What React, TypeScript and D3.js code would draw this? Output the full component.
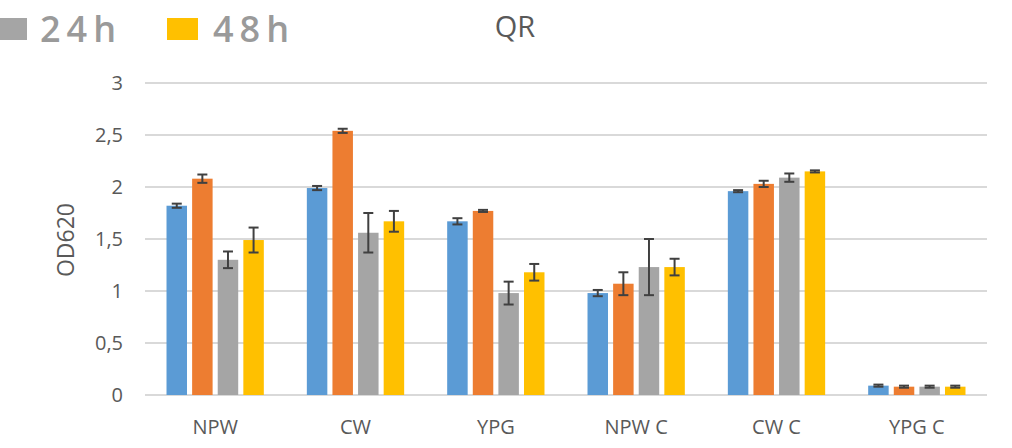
import React from "react";
import * as d3 from "d3";

const categories = ["NPW", "CW", "YPG", "NPW C", "CW C", "YPG C"];
const seriesNames = ["s1", "s2", "24h", "48h"];
const seriesColors = ["#5B9BD5", "#ED7D31", "#A5A5A5", "#FFC000"];
const s1Values = [1.82, 1.99, 1.67, 0.98, 1.96, 0.09];
const s1Errors = [0.02, 0.02, 0.03, 0.03, 0.01, 0.01];
const s2Values = [2.08, 2.54, 1.77, 1.07, 2.03, 0.08];
const s2Errors = [0.04, 0.02, 0.01, 0.11, 0.03, 0.01];
const h24Values = [1.3, 1.56, 0.98, 1.23, 2.09, 0.08];
const h24Errors = [0.08, 0.19, 0.11, 0.27, 0.04, 0.01];
const h48Values = [1.49, 1.67, 1.18, 1.23, 2.15, 0.08];
const h48Errors = [0.12, 0.1, 0.08, 0.08, 0.01, 0.01];
const yTicks = [0, 0.5, 1, 1.5, 2, 2.5, 3];
const legendItems = [
  { label: "24h", color: "#A5A5A5" },
  { label: "48h", color: "#FFC000" },
];

const values = [s1Values, s2Values, h24Values, h48Values];
const errors = [s1Errors, s2Errors, h24Errors, h48Errors];

export default function App() {
  const W = 1012;
  const H = 448;
  const x0 = d3.scaleBand<string>().domain(categories).range([145, 987]).padding(0);
  const x1 = d3
    .scaleBand<string>()
    .domain(seriesNames)
    .range([0, x0.bandwidth()])
    .paddingInner(0.2)
    .paddingOuter(0.84);
  const y = d3.scaleLinear().domain([0, 3]).range([395, 83]);
  const fmt = (v: number) => String(v).replace(".", ",");
  const font = "'Open Sans', 'Noto Sans', sans-serif";

  return (
    <svg
      width={W}
      height={H}
      style={{ position: "absolute", left: 0, top: 0, background: "#fff" }}
      fontFamily={font}
    >
      {yTicks.map((t) => (
        <g key={t}>
          <line x1={145} x2={987} y1={y(t)} y2={y(t)} stroke="#D9D9D9" strokeWidth={2} />
          <text x={123} y={y(t)} dy="0.35em" textAnchor="end" fontSize={20} fill="#595959">
            {fmt(t)}
          </text>
        </g>
      ))}
      {categories.map((c, ci) => (
        <g key={c} transform={`translate(${x0(c)},0)`}>
          {seriesNames.map((s, si) => {
            const v = values[si][ci];
            const e = errors[si][ci];
            const bx = x1(s)!;
            const cx = bx + x1.bandwidth() / 2;
            return (
              <g key={s}>
                <rect
                  x={bx}
                  y={y(v)}
                  width={x1.bandwidth()}
                  height={y(0) - y(v)}
                  fill={seriesColors[si]}
                />
                <line x1={cx} x2={cx} y1={y(v + e)} y2={y(v - e)} stroke="#404040" strokeWidth={2} />
                <line x1={cx - 5} x2={cx + 5} y1={y(v + e)} y2={y(v + e)} stroke="#404040" strokeWidth={2} />
                <line x1={cx - 5} x2={cx + 5} y1={y(v - e)} y2={y(v - e)} stroke="#404040" strokeWidth={2} />
              </g>
            );
          })}
          <text
            x={x0.bandwidth() / 2}
            y={427}
            dy="0.35em"
            textAnchor="middle"
            fontSize={20}
            fill="#595959"
          >
            {c}
          </text>
        </g>
      ))}
      <text
        transform={`translate(66,240) rotate(-90)`}
        textAnchor="middle"
        dy="0.35em"
        fontSize={23}
        fill="#595959"
      >
        OD620
      </text>
      <text x={515} y={37} textAnchor="middle" fontSize={29} fill="#595959">
        QR
      </text>
      {legendItems.map((it, i) => (
        <g key={it.label}>
          <rect x={i === 0 ? -5 : 167} y={18} width={i === 0 ? 32 : 31} height={22} fill={it.color} />
          <text
            x={i === 0 ? 40 : 213}
            y={42}
            fontSize={36}
            fontWeight={600}
            letterSpacing={6}
            fill="#9A9A9A"
          >
            {it.label}
          </text>
        </g>
      ))}
    </svg>
  );
}
